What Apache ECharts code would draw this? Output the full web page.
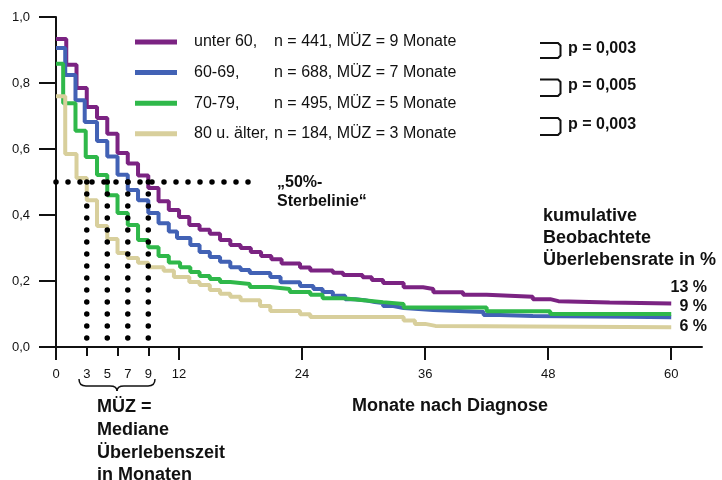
<!DOCTYPE html>
<html>
<head>
<meta charset="utf-8">
<script src="https://cdn.jsdelivr.net/npm/echarts@6/dist/echarts.min.js"></script>
<style>
html, body { margin: 0; padding: 0; background: #fff; }
#chart { width: 722px; height: 480px; }
</style>
</head>
<body>
<div id="chart"></div>
<script>
// Age groups, case numbers and median survival (months)
const groupNames = ['unter 60', '60-69', '70-79', '80 u. älter'];
const groupN = [441, 688, 495, 184];
const medianMonths = [9, 7, 5, 3];
const groupColors = ['#7b2382', '#4262b5', '#2fb84a', '#d8cf9c'];

// Kaplan-Meier steps: month where a step begins, survival from then on
const monthsU60 = [0, 1, 2, 3, 4, 5, 6, 7, 8, 9, 10, 11, 12, 13, 14, 15, 16, 17, 18, 19, 20, 21, 22, 23.8, 24.8, 27, 28, 29.9, 30.8, 31.9, 33.9, 35.8, 36.8, 39.7, 42, 46.5, 48.2, 49, 54, 60];
const survU60   = [0.933, 0.855, 0.785, 0.727, 0.694, 0.646, 0.588, 0.556, 0.52, 0.482, 0.442, 0.415, 0.394, 0.37, 0.355, 0.343, 0.324, 0.309, 0.3, 0.288, 0.276, 0.266, 0.253, 0.241, 0.232, 0.225, 0.218, 0.211, 0.203, 0.194, 0.181, 0.176, 0.166, 0.158, 0.152, 0.145, 0.139, 0.135, 0.132, 0.13];

const months60 = [0, 0.9, 1.9, 2.8, 4, 5, 6, 7, 8, 9, 10, 11, 11.8, 13.1, 14, 15, 16, 17, 18, 18.9, 20.9, 21.9, 23.8, 25.1, 26, 27, 28.2, 29.2, 30.1, 31.1, 31.9, 32.9, 33.9, 36.8, 41.7, 43.3, 46.5, 55.7, 60];
const surv60   = [0.906, 0.824, 0.748, 0.682, 0.624, 0.577, 0.522, 0.476, 0.445, 0.406, 0.375, 0.35, 0.33, 0.309, 0.288, 0.273, 0.258, 0.242, 0.233, 0.224, 0.212, 0.196, 0.185, 0.176, 0.167, 0.155, 0.145, 0.142, 0.136, 0.133, 0.124, 0.118, 0.112, 0.106, 0.097, 0.094, 0.092, 0.09, 0.09];

const months70 = [0, 0.7, 1.9, 2.9, 4, 5, 6, 7, 8, 9, 10, 11, 12.1, 13.1, 14, 15, 16, 17, 18.9, 20.9, 22.8, 24.8, 26, 28, 30, 31.9, 33.9, 42, 48.2, 60];
const surv70   = [0.858, 0.739, 0.655, 0.576, 0.521, 0.46, 0.406, 0.37, 0.324, 0.302, 0.276, 0.256, 0.242, 0.227, 0.215, 0.206, 0.197, 0.191, 0.182, 0.176, 0.167, 0.158, 0.148, 0.142, 0.136, 0.13, 0.12, 0.108, 0.1, 0.1];

const months80 = [0, 0.9, 2, 3, 4, 5, 6, 7, 8, 9, 10.5, 11.5, 13, 14, 15, 16, 17, 18, 19.9, 20.9, 23.8, 24.8, 33.9, 35, 36, 37, 60];
const surv80   = [0.76, 0.585, 0.512, 0.445, 0.367, 0.327, 0.285, 0.27, 0.255, 0.242, 0.231, 0.212, 0.197, 0.188, 0.173, 0.161, 0.152, 0.142, 0.124, 0.109, 0.099, 0.091, 0.08, 0.07, 0.064, 0.06, 0.06];

// Observed cumulative survival at 60 months (%)
const endPercent = [13, 9, 6];
const pValues = ['0,003', '0,005', '0,003'];

// Axis ticks and labels
const xTickMajor = [0, 12, 24, 36, 48, 60];
const xTickMinor = [3, 6, 9];
const xTickLabels = [0, 3, 5, 7, 9, 12, 24, 36, 48, 60];
const halfLineEnd = 18.73;   // 50% reference line runs out to this month
const dotBottom = 0.027;     // lower end of the median drop lines

const FONT = '"Liberation Sans", Arial, sans-serif';
const INK = '#111';

const curveMonths = [monthsU60, months60, months70, months80];
const curveSurv = [survU60, surv60, surv70, surv80];

const dotStyle = { color: '#000', width: 5.5, type: [0, 12], cap: 'round' };

const curveSeries = groupNames.map((name, i) => ({
  name: name,
  type: 'line',
  step: 'end',
  symbol: 'none',
  color: groupColors[i],
  lineStyle: { width: 4, color: groupColors[i] },
  data: curveMonths[i].map((m, k) => [m, curveSurv[i][k]]),
  silent: true,
  z: 2
}));

const dotSeries = [{
  name: 'half',
  type: 'line',
  symbol: 'none',
  clip: false,
  silent: true,
  lineStyle: dotStyle,
  data: [[0, 0.5], [halfLineEnd, 0.5]],
  z: 5
}].concat(medianMonths.map(m => ({
  name: 'median ' + m,
  type: 'line',
  symbol: 'none',
  clip: false,
  silent: true,
  lineStyle: dotStyle,
  data: [[m, 0.5], [m, dotBottom]],
  z: 5
})));

const bracketTops = [43, 79.5, 118];
const bracketBottoms = [58, 96, 135];

const graphics = [];
pValues.forEach((p, i) => {
  const t = bracketTops[i], b = bracketBottoms[i];
  graphics.push({
    type: 'polyline',
    shape: { points: [[540, t], [558, t], [560.5, t + 2.5], [560.5, b - 2.5], [558, b], [540, b]] },
    style: { stroke: INK, lineWidth: 2, fill: null }
  });
  graphics.push({
    type: 'text',
    left: 568,
    top: (t + b) / 2 - 10,
    style: { text: 'p = ' + p, font: 'bold 16px ' + FONT, fill: INK }
  });
});

const endLabelTops = [280, 299, 319];
endPercent.forEach((v, i) => {
  graphics.push({
    type: 'text',
    right: 15,
    top: endLabelTops[i],
    style: { text: v + ' %', font: 'bold 16px ' + FONT, fill: INK }
  });
});

// curly brace under the median labels
const braceStyle = { stroke: INK, lineWidth: 1.5, fill: null };
graphics.push(
  { type: 'bezierCurve', shape: { x1: 79, y1: 379, cpx1: 79, cpy1: 386, x2: 86, y2: 386 }, style: braceStyle },
  { type: 'line', shape: { x1: 86, y1: 386, x2: 110, y2: 386 }, style: braceStyle },
  { type: 'bezierCurve', shape: { x1: 110, y1: 386, cpx1: 117, cpy1: 386, x2: 117, y2: 391 }, style: braceStyle },
  { type: 'bezierCurve', shape: { x1: 117, y1: 391, cpx1: 117, cpy1: 386, x2: 124, y2: 386 }, style: braceStyle },
  { type: 'line', shape: { x1: 124, y1: 386, x2: 148, y2: 386 }, style: braceStyle },
  { type: 'bezierCurve', shape: { x1: 148, y1: 386, cpx1: 155, cpy1: 386, x2: 155, y2: 379 }, style: braceStyle }
);

graphics.push(
  {
    type: 'text', left: 277, top: 173,
    style: { text: '„50%-\nSterbelinie“', font: 'bold 16px ' + FONT, lineHeight: 19, fill: INK }
  },
  {
    type: 'text', left: 543, top: 205,
    style: { text: 'kumulative\nBeobachtete\nÜberlebensrate in %', font: 'bold 18px ' + FONT, lineHeight: 22, fill: INK }
  },
  {
    type: 'text', left: 97, top: 396,
    style: { text: 'MÜZ =\nMediane\nÜberlebenszeit\nin Monaten', font: 'bold 18px ' + FONT, lineHeight: 22.7, fill: INK }
  },
  {
    type: 'text', left: 352, top: 397,
    style: { text: 'Monate nach Diagnose', font: 'bold 18px ' + FONT, fill: INK }
  }
);

const chart = echarts.init(document.getElementById('chart'), null, { renderer: 'canvas' });

chart.setOption({
  animation: false,
  backgroundColor: '#fff',
  grid: { left: 56, right: 20, top: 17, bottom: 133, containLabel: false },
  legend: {
    data: groupNames,
    orient: 'vertical',
    left: 130,
    top: 29,
    icon: 'rect',
    itemWidth: 42,
    itemHeight: 5,
    itemGap: 14.6,
    selectedMode: false,
    formatter: name => {
      const i = groupNames.indexOf(name);
      return `{a|${name},}{b|n = ${groupN[i]}, MÜZ = ${medianMonths[i]} Monate}`;
    },
    textStyle: {
      fontFamily: FONT, fontSize: 16, color: INK,
      rich: {
        a: { fontFamily: FONT, fontSize: 16, color: INK, width: 80, height: 20, padding: [0, 0, 0, 12] },
        b: { fontFamily: FONT, fontSize: 16, color: INK, height: 20 }
      }
    }
  },
  xAxis: [{
    type: 'value',
    min: 0,
    max: 63,
    axisLine: { show: true, lineStyle: { color: INK, width: 2 } },
    axisTick: { show: true, customValues: xTickMajor, length: 13, lineStyle: { color: INK, width: 2 } },
    axisLabel: { customValues: xTickLabels, fontFamily: FONT, fontSize: 13, color: INK, margin: 21 },
    splitLine: { show: false }
  }, {
    type: 'value',
    position: 'bottom',
    min: 0,
    max: 63,
    axisLine: { show: false },
    axisTick: { show: true, customValues: xTickMinor, length: 9, lineStyle: { color: INK, width: 2 } },
    axisLabel: { show: false },
    splitLine: { show: false }
  }],
  yAxis: {
    type: 'value',
    min: 0,
    max: 1,
    interval: 0.2,
    axisLine: { show: true, lineStyle: { color: INK, width: 2 } },
    axisTick: { show: true, length: 17, lineStyle: { color: INK, width: 2 } },
    axisLabel: {
      fontFamily: FONT, fontSize: 13, color: INK, margin: 26,
      formatter: v => v.toFixed(1).replace('.', ',')
    },
    splitLine: { show: false }
  },
  series: curveSeries.concat(dotSeries),
  graphic: graphics
});
</script>
</body>
</html>
